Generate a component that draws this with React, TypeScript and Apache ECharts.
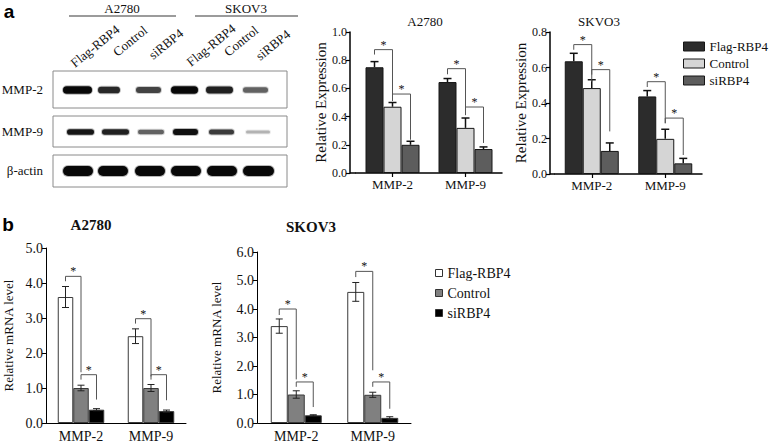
import React, { useEffect, useRef } from 'react';
import * as echarts from 'echarts';

const SERIF = 'Liberation Serif, Times New Roman, serif';
const SANS = 'Liberation Sans, Arial, sans-serif';

// ---------- data ----------
const groups = ['MMP-2', 'MMP-9'];
const treatments = ['Flag-RBP4', 'Control', 'siRBP4'];
const blotCellLines = ['A2780', 'SKOV3'];
const blotRows = ['MMP-2', 'MMP-9', 'β-actin'];

// relative band strength per lane (A2780: Flag, Control, si; SKOV3: Flag, Control, si)
const mmp2Bands = [1.0, 0.8, 0.65, 1.0, 0.85, 0.5];
const mmp9Bands = [0.9, 0.85, 0.5, 0.95, 0.7, 0.12];
const actinBands = [1.0, 1.0, 1.0, 1.0, 1.0, 1.0];

// panel a densitometry — rows: Flag-RBP4, Control, siRBP4; cols: MMP-2, MMP-9
const protA2780Mean = [[0.75, 0.645], [0.47, 0.32], [0.2, 0.17]];
const protA2780Err = [[0.04, 0.025], [0.03, 0.07], [0.025, 0.015]];
// [group, fromBar, toBar, bracketTop, leftEnd, rightEnd]
const protA2780Sig = [[0, 0, 1, 0.875, 0.84, 0.51], [0, 1, 2, 0.56, 0.525, 0.236], [1, 0, 1, 0.74, 0.7, 0.41], [1, 1, 2, 0.468, 0.425, 0.213]];

const protSKOV3Mean = [[0.635, 0.437], [0.484, 0.198], [0.13, 0.06]];
const protSKOV3Err = [[0.045, 0.033], [0.047, 0.054], [0.045, 0.028]];
const protSKOV3Sig = [[0, 0, 1, 0.729, 0.7, 0.52], [0, 1, 2, 0.588, 0.56, 0.24], [1, 0, 1, 0.52, 0.49, 0.286], [1, 1, 2, 0.315, 0.286, 0.107]];

// panel b qPCR
const mrnaA2780Mean = [[3.6, 2.48], [1.0, 1.0], [0.38, 0.34]];
const mrnaA2780Err = [[0.3, 0.21], [0.08, 0.1], [0.03, 0.03]];
const mrnaA2780Sig = [[0, 0, 1, 4.19, 4.05, 1.45], [0, 1, 2, 1.38, 1.24, 0.67], [1, 0, 1, 2.98, 2.84, 1.33], [1, 1, 2, 1.38, 1.24, 0.65]];

const mrnaSKOV3Mean = [[3.4, 4.6], [1.0, 0.99], [0.27, 0.18]];
const mrnaSKOV3Err = [[0.25, 0.33], [0.13, 0.09], [0.02, 0.04]];
const mrnaSKOV3Sig = [[0, 0, 1, 4.0, 3.79, 1.53], [0, 1, 2, 1.44, 1.27, 0.56], [1, 0, 1, 5.32, 5.12, 1.85], [1, 1, 2, 1.44, 1.27, 0.5]];

// ---------- layout / style ----------
const protColors = ['#2c2c2c', '#d5d5d5', '#5d5d5d'];
const mrnaColors = ['#ffffff', '#808080', '#000000'];

const panels = [
  { title: 'A2780', tx: 425, ty: 21, tfont: `13px ${SERIF}`, mean: protA2780Mean, err: protA2780Err, sig: protA2780Sig, max: 1, interval: 0.2,
    grid: { left: 356, top: 32, width: 146, height: 141 }, axisX: 350, bw: 18, kind: 'prot', yName: 'Relative Expression', nameGap: 19 },
  { title: 'SKVO3', tx: 599, ty: 21, tfont: `13px ${SERIF}`, mean: protSKOV3Mean, err: protSKOV3Err, sig: protSKOV3Sig, max: 0.8, interval: 0.2,
    grid: { left: 555, top: 32, width: 147, height: 142 }, axisX: 550, bw: 18, kind: 'prot', yName: 'Relative Expression', nameGap: 19 },
  { title: 'A2780', tx: 91, ty: 225, tfont: `bold 15px ${SERIF}`, mean: mrnaA2780Mean, err: mrnaA2780Err, sig: mrnaA2780Sig, max: 5, interval: 1,
    grid: { left: 46, top: 248, width: 140, height: 175 }, axisX: 46, bw: 15.5, kind: 'mrna', yName: 'Relative mRNA level', nameGap: 31 },
  { title: 'SKOV3', tx: 311, ty: 227, tfont: `bold 15px ${SERIF}`, mean: mrnaSKOV3Mean, err: mrnaSKOV3Err, sig: mrnaSKOV3Sig, max: 6, interval: 1,
    grid: { left: 258, top: 252, width: 153, height: 171 }, axisX: 257, bw: 17, kind: 'mrna', yName: 'Relative mRNA level', nameGap: 34 },
];

const laneX = {
  'MMP-2': [[77.5, 29], [109, 22], [148.5, 25], [184.5, 27], [219.5, 27], [255.5, 25]],
  'MMP-9': [[80.5, 27], [115.5, 27], [151, 26], [185.5, 25], [221.5, 25], [258, 24]],
  'β-actin': [[78, 30], [113, 30], [150, 30], [186, 30], [222, 30], [258.5, 31]],
};
const rowBoxes = [[71, 108, 90], [116, 147, 132], [155, 187, 171]];
const laneLabelPos = [[95, 46], [130, 41], [166, 44], [211, 45], [241, 41], [273, 45]];

function buildOption() {
  const grid: any[] = [];
  const xAxis: any[] = [];
  const yAxis: any[] = [];
  const series: any[] = [];
  const graphic: any[] = [];

  panels.forEach((p, pi) => {
    const prot = p.kind === 'prot';
    grid.push({ ...p.grid, containLabel: false });
    xAxis.push({
      type: 'category', gridIndex: pi, data: groups,
      axisLine: { show: true, lineStyle: { color: '#000', width: prot ? 1.5 : 1 } },
      axisTick: prot ? { show: true, alignWithLabel: true, length: 4, lineStyle: { color: '#000', width: 1.2 } } : { show: false },
      axisLabel: { fontFamily: SERIF, fontSize: prot ? 13 : 14, color: '#111', margin: prot ? 5 : 6 },
    });
    yAxis.push({
      type: 'value', gridIndex: pi, min: 0, max: p.max, interval: p.interval,
      offset: p.grid.left - p.axisX,
      axisLine: { show: true, lineStyle: { color: '#000', width: prot ? 1.5 : 1 } },
      axisTick: { show: true, length: 4, lineStyle: { color: '#000', width: prot ? 1.2 : 1 } },
      axisLabel: { fontFamily: SERIF, fontSize: prot ? 12 : 14, color: '#111', margin: 3, formatter: (v: number) => v.toFixed(1) },
      splitLine: { show: false },
      name: p.yName, nameLocation: 'middle', nameGap: p.nameGap,
      nameTextStyle: { fontFamily: SERIF, fontSize: prot ? 15 : 13, color: '#111' },
    });
    const colors = prot ? protColors : mrnaColors;
    treatments.forEach((t, k) => {
      series.push({
        type: 'bar', name: t, xAxisIndex: pi, yAxisIndex: pi, data: p.mean[k],
        barWidth: p.bw, barGap: '0%',
        itemStyle: { color: colors[k], borderColor: prot ? '#161616' : '#3a3a3a', borderWidth: 1 },
        silent: true,
      });
      const bw = p.bw;
      series.push({
        type: 'custom', xAxisIndex: pi, yAxisIndex: pi, z: 5, silent: true,
        itemStyle: { color: '#111' },
        data: groups.map((g, j) => [j, p.mean[k][j], p.err[k][j]]),
        encode: { x: 0, y: 1 },
        renderItem: (params: any, api: any) => {
          const j = api.value(0), m = api.value(1), e = api.value(2);
          const base = api.coord([j, m]);
          const x = base[0] + (k - 1) * bw;
          const hi = api.coord([j, m + e])[1];
          const lo = prot ? base[1] : api.coord([j, m - e])[1];
          const cap = prot ? 4 : 3.5;
          const st = { stroke: prot ? '#111' : '#222', lineWidth: prot ? 1.5 : 1 };
          const children: any[] = [
            { type: 'line', shape: { x1: x, y1: lo, x2: x, y2: hi }, style: st },
            { type: 'line', shape: { x1: x - cap, y1: hi, x2: x + cap, y2: hi }, style: st },
          ];
          if (!prot) children.push({ type: 'line', shape: { x1: x - cap, y1: lo, x2: x + cap, y2: lo }, style: st });
          return { type: 'group', children };
        },
      });
    });
    const bw = p.bw;
    series.push({
      type: 'custom', xAxisIndex: pi, yAxisIndex: pi, z: 6, silent: true,
      color: '#111',
      itemStyle: { color: '#111' },
      data: p.sig, encode: { x: 0, y: 3 },
      renderItem: (params: any, api: any) => {
        const j = api.value(0), b1 = api.value(1), b2 = api.value(2);
        const c = api.coord([j, api.value(3)]);
        const xL = c[0] + (b1 - 1) * bw;
        const xR = c[0] + (b2 - 1) * bw;
        const yT = c[1];
        const yL = api.coord([j, api.value(4)])[1];
        const yR = api.coord([j, api.value(5)])[1];
        return {
          type: 'group', children: [
            { type: 'polyline', shape: { points: [[xL, yL], [xL, yT], [xR, yT], [xR, yR]] }, style: { stroke: '#555', lineWidth: 1, fill: 'none' } },
            { type: 'text', x: (xL + xR) / 2, y: yT - 5, style: { text: '*', font: `12px ${SERIF}`, fill: '#111', textFill: '#111', align: 'center', verticalAlign: 'middle' } },
          ],
        };
      },
    });
    // titles
    graphic.push({ type: 'text', x: p.tx, y: p.ty, style: { text: p.title, font: p.tfont, fill: '#111', align: 'center', verticalAlign: 'middle' } });
    if (p.grid.left > p.axisX) {
      const yb = p.grid.top + p.grid.height;
      graphic.push({ type: 'line', shape: { x1: p.axisX, y1: yb, x2: p.grid.left, y2: yb }, style: { stroke: '#000', lineWidth: 1.5 } });
    }
  });

  // panel letters
  graphic.push({ type: 'text', x: 9, y: 11, style: { text: 'a', font: `bold 19px ${SANS}`, fill: '#000', align: 'center', verticalAlign: 'middle' } });
  graphic.push({ type: 'text', x: 8, y: 224, style: { text: 'b', font: `bold 19px ${SANS}`, fill: '#000', align: 'center', verticalAlign: 'middle' } });

  // blot header
  const headers = [[122, 69, 176], [246, 195, 298]];
  blotCellLines.forEach((c, i) => {
    const [cx, x1, x2] = headers[i];
    graphic.push({ type: 'text', x: cx, y: 8, style: { text: c, font: `13px ${SERIF}`, fill: '#111', align: 'center', verticalAlign: 'middle' } });
    graphic.push({ type: 'line', shape: { x1, y1: 16, x2, y2: 16 }, style: { stroke: '#7a7a7a', lineWidth: 1.5 } });
  });
  laneLabelPos.forEach(([x, y], i) => {
    graphic.push({ type: 'text', x, y, rotation: 0.68, style: { text: treatments[i % 3], font: `13px ${SERIF}`, fill: '#111', align: 'center', verticalAlign: 'middle' } });
  });

  // blot boxes & bands
  const bandData = [mmp2Bands, mmp9Bands, actinBands];
  const baseThick = [7.5, 6, 10];
  blotRows.forEach((r, ri) => {
    const [y1, y2, cy] = rowBoxes[ri];
    graphic.push({ type: 'rect', shape: { x: 53, y: y1, width: 234, height: y2 - y1 }, style: { fill: '#fff', stroke: '#8a8a8a', lineWidth: 1 } });
    graphic.push({ type: 'text', x: 43, y: cy - 1, style: { text: r, font: `13px ${SERIF}`, fill: '#111', align: 'right', verticalAlign: 'middle' } });
    bandData[ri].forEach((v, li) => {
      const [lx, lw] = (laneX as any)[r][li];
      const th = ri === 2 ? baseThick[2] : baseThick[ri] * (0.45 + 0.55 * v);
      const a = ri === 2 ? 1 : 0.15 + 0.85 * v;
      graphic.push({ type: 'rect', shape: { x: lx - lw / 2 - 1, y: cy - th / 2 - 1, width: lw + 2, height: th + 2, r: th / 2 + 1 }, style: { fill: `rgba(20,20,20,${(a * 0.3).toFixed(2)})` } });
      graphic.push({ type: 'rect', shape: { x: lx - lw / 2, y: cy - th / 2, width: lw, height: th, r: th / 2 }, style: { fill: `rgba(8,8,8,${a.toFixed(2)})` } });
    });
  });

  const legend = [
    {
      orient: 'vertical', left: 678, top: 35, itemWidth: 21, itemHeight: 9, itemGap: 4, icon: 'rect', selectedMode: false,
      textStyle: { fontFamily: SERIF, fontSize: 13, color: '#111' },
      data: treatments.map((t, k) => ({ name: t, itemStyle: { color: protColors[k], borderColor: '#161616', borderWidth: 1 } })),
    },
    {
      orient: 'vertical', left: 430, top: 261, itemWidth: 7, itemHeight: 7, itemGap: 6, icon: 'rect', selectedMode: false,
      textStyle: { fontFamily: SERIF, fontSize: 14, color: '#111' },
      data: treatments.map((t, k) => ({ name: t, itemStyle: { color: mrnaColors[k], borderColor: '#333', borderWidth: 1 } })),
    },
  ];

  return { animation: false, backgroundColor: '#fff', color: ['#111111'], grid, xAxis, yAxis, series, graphic, legend };
}

export default function App() {
  const ref = useRef<HTMLDivElement>(null);
  useEffect(() => {
    if (!ref.current) return;
    const chart = echarts.init(ref.current, null, { renderer: 'svg' });
    chart.setOption(buildOption() as any);
    return () => chart.dispose();
  }, []);
  return <div ref={ref} style={{ position: 'fixed', left: 0, top: 0, width: 778, height: 444, background: '#fff' }} />;
}
